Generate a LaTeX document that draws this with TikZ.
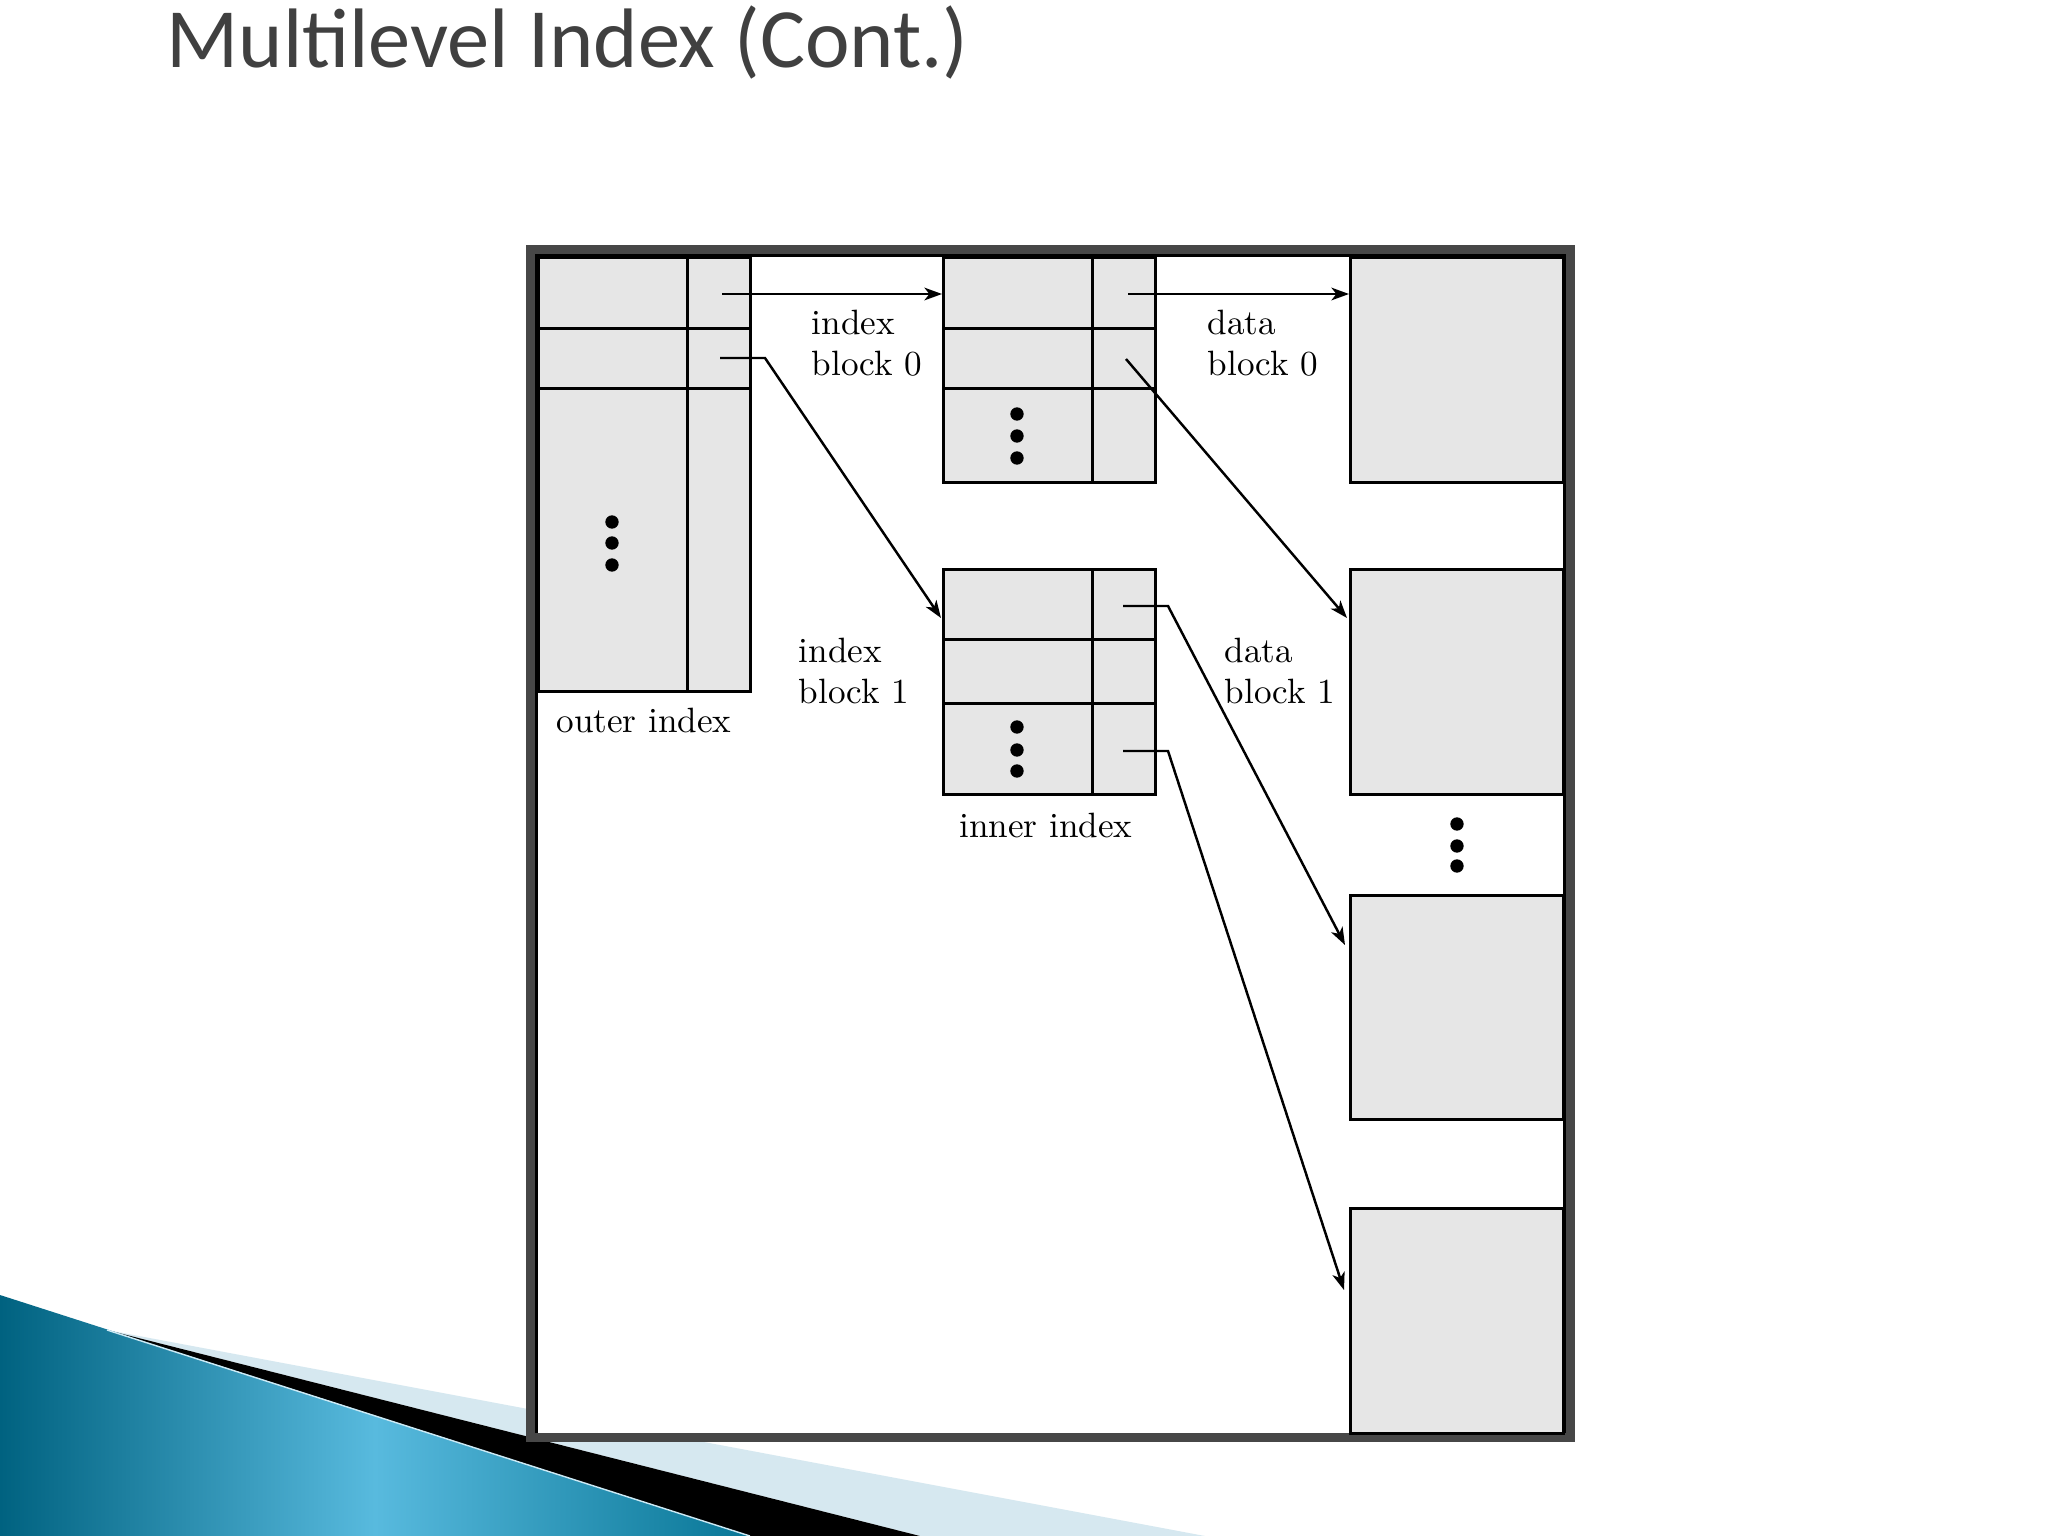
\documentclass[tikz,border=0pt]{standalone}
\usepackage{fontspec}
\newfontfamily\titlefont{Carlito}
\usetikzlibrary{arrows.meta, fit}

\definecolor{framegray}{HTML}{474747}
\definecolor{cellgray}{HTML}{E6E6E6}
\definecolor{titlegray}{HTML}{404040}
\definecolor{tealdark}{RGB}{0,98,128}
\definecolor{tealright}{RGB}{8,118,150}
\definecolor{teallight}{RGB}{88,186,222}
\definecolor{paleblue}{RGB}{214,232,240}

\tikzset{
  blk/.style={draw=black, fill=cellgray, line width=0.85pt, inner sep=0pt, outer sep=0pt},
  sep/.style={line width=0.85pt},
  ptr/.style={line width=0.7pt, -{Stealth[length=5pt,width=3.6pt,inset=1.4pt]}},
  lbl/.style={font=\fontsize{10}{11.6}\selectfont, align=left, inner sep=0pt},
}

\begin{document}
\begin{tikzpicture}[x=0.01cm, y=-0.01cm]
  \useasboundingbox (0,0) rectangle (2048,1536);
  \fill[white] (0,0) rectangle (2048,1536);
  % title
  \node[font=\titlefont\fontsize{24}{28}\selectfont, text=titlegray, anchor=base west, inner sep=0pt] (title) at (166,67) {Multilevel Index (Cont.)};
  % bottom left swoosh
  \fill[paleblue] (107,1330) -- (1205,1536) -- (920,1536) -- cycle;
  \fill[black] (107,1330) -- (920,1536) -- (750,1536) -- cycle;
  \shade[left color=tealdark, right color=tealright, middle color=teallight] (0,1295) -- (750,1536) -- (0,1536) -- cycle;
  \draw[white!70!teallight, line width=0.4pt] (107,1330) -- (750,1536);
  % frame
  \fill[framegray] (526,245) rectangle (1575,1442);
  \fill[white] (535,254) rectangle (1566,1433);
  \draw[line width=0.9pt] (536.5,1433) -- (536.5,255.5) -- (1564.5,255.5) -- (1564.5,1433);
  % outer index
  \node[blk, fit={(538,257) (750,691)}] (outer) {};
  \draw[sep] (687,257) -- (687,691);
  \draw[sep] (538,328) -- (750,328);
  \draw[sep] (538,388) -- (750,388);
  \foreach \y in {522,543,565}
    \fill (612,\y) circle [radius=1.9pt];
  \node[lbl, anchor=base] (outerlbl) at (644,732) {outer index};
  % index blocks
  \node[blk, fit={(943,257) (1155,482)}] (ib0) {};
  \draw[sep] (1092,257) -- (1092,482);
  \draw[sep] (943,328) -- (1155,328);
  \draw[sep] (943,388) -- (1155,388);
  \foreach \y in {414,436,458}
    \fill (1017,\y) circle [radius=1.9pt];
  \node[blk, fit={(943,569) (1155,794)}] (ib1) {};
  \draw[sep] (1092,569) -- (1092,794);
  \draw[sep] (943,639) -- (1155,639);
  \draw[sep] (943,703) -- (1155,703);
  \foreach \y in {727,750,771}
    \fill (1017,\y) circle [radius=1.9pt];
  \node[lbl, anchor=base] (innerlbl) at (1046,837) {inner index};
  \node[lbl, anchor=base west] (ib0lbl) at (811,375) {index\\block 0};
  \node[lbl, anchor=base west] (ib1lbl) at (798,703) {index\\block 1};
  % data blocks
  \node[blk, fit={(1350,257) (1563,482)}] (db0) {};
  \node[blk, fit={(1350,569) (1563,794)}] (db1) {};
  \node[blk, fit={(1350,895) (1563,1119)}] (db2) {};
  \node[blk, fit={(1350,1208) (1563,1433)}] (db3) {};
  \foreach \y in {824,846,866}
    \fill (1457,\y) circle [radius=1.9pt];
  \node[lbl, anchor=base west] (db0lbl) at (1207,375) {data\\block 0};
  \node[lbl, anchor=base west] (db1lbl) at (1224,703) {data\\block 1};
  % pointers
  \coordinate (o0) at (722,294);
  \coordinate (o1) at (720,358);
  \coordinate (o1b) at (765,358);
  \coordinate (ib0in) at (942,294);
  \coordinate (ib1in) at (941,618);
  \coordinate (p0) at (1128,294);
  \coordinate (p1) at (1126,359);
  \coordinate (db0in) at (1349,294);
  \coordinate (db1in) at (1347,618);
  \coordinate (q0) at (1123,606);
  \coordinate (q0b) at (1168,606);
  \coordinate (q2) at (1123,751);
  \coordinate (q2b) at (1168,751);
  \coordinate (db2in) at (1345,945);
  \coordinate (db3in) at (1344,1290);
  \draw[ptr] (o0) -- (ib0in);
  \draw[ptr] (o1) -- (o1b) -- (ib1in);
  \draw[ptr] (p0) -- (db0in);
  \draw[ptr] (p1) -- (db1in);
  \draw[ptr] (q0) -- (q0b) -- (db2in);
  \draw[ptr] (q2) -- (q2b) -- (db3in);
\end{tikzpicture}
\end{document}
